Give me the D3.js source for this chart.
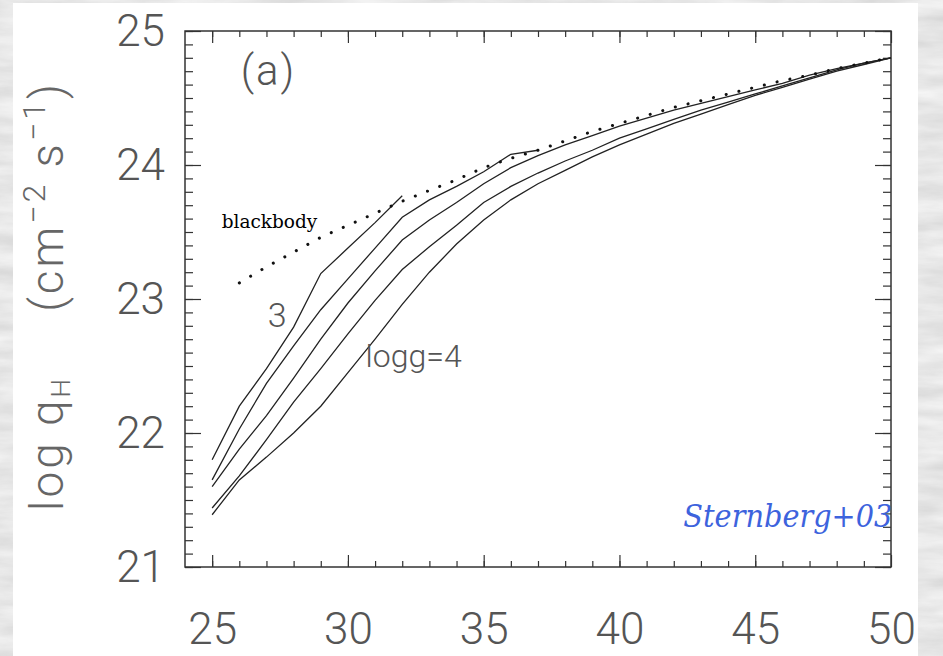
<!DOCTYPE html>
<html>
<head>
<meta charset="utf-8">
<script src="https://cdn.jsdelivr.net/npm/d3@7"></script>
<style>
  html, body { margin: 0; padding: 0; background: #ddd; }
  svg { display: block; }
</style>
</head>
<body>
<div id="chart"></div>
<script>
// effective temperature grid (kK)
var teffGrid = d3.range(25, 51, 1);

// log q_H for each log g track, starting at 25 kK
var qLogg30  = [21.80, 22.20, 22.48, 22.79, 23.19, 23.38, 23.57, 23.77];
var qLogg325 = [21.65, 22.03, 22.37, 22.65, 22.92, 23.15, 23.38, 23.61, 23.74, 23.84, 23.95, 24.08, 24.11];
var qLogg35  = [21.60, 21.88, 22.13, 22.41, 22.70, 22.97, 23.21, 23.44, 23.59, 23.72, 23.86, 23.98, 24.07,
                24.15, 24.22, 24.29, 24.35, 24.41, 24.46, 24.51, 24.56, 24.61, 24.67, 24.72, 24.76, 24.80];
var qLogg375 = [21.44, 21.68, 21.95, 22.23, 22.48, 22.74, 22.99, 23.22, 23.39, 23.55, 23.72, 23.84, 23.94,
                24.03, 24.11, 24.20, 24.27, 24.34, 24.41, 24.47, 24.53, 24.59, 24.65, 24.71, 24.76, 24.80];
var qLogg40  = [21.39, 21.65, 21.82, 22.00, 22.20, 22.45, 22.70, 22.96, 23.20, 23.41, 23.59, 23.74, 23.86,
                23.96, 24.06, 24.15, 24.23, 24.31, 24.38, 24.45, 24.52, 24.58, 24.64, 24.70, 24.75, 24.80];

// blackbody curve, starting at 26 kK
var bbStart = 26;
var qBlackbody = [23.12, 23.24, 23.35, 23.46, 23.55, 23.64, 23.73, 23.81, 23.89, 23.98, 24.05, 24.11, 24.18,
                  24.25, 24.31, 24.37, 24.43, 24.48, 24.53, 24.58, 24.63, 24.67, 24.72, 24.76, 24.80];

var xTicksMajor = [25, 30, 35, 40, 45, 50];
var yTicksMajor = [21, 22, 23, 24, 25];

var width = 943, height = 656;

var svg = d3.select("#chart").append("svg")
    .attr("width", width)
    .attr("height", height);

// stone-like frame texture
var defs = svg.append("defs");
var f = defs.append("filter").attr("id", "stone")
    .attr("x", 0).attr("y", 0).attr("width", 1).attr("height", 1);
f.append("feTurbulence")
    .attr("type", "fractalNoise")
    .attr("baseFrequency", "0.012 0.06")
    .attr("numOctaves", 5)
    .attr("seed", 3);
f.append("feColorMatrix")
    .attr("type", "matrix")
    .attr("values", "0.34 0 0 0 0.63  0.34 0 0 0 0.63  0.34 0 0 0 0.63  0 0 0 0 1");

svg.append("rect")
    .attr("width", width).attr("height", height)
    .attr("fill", "#ddd")
    .attr("filter", "url(#stone)");

svg.append("rect")
    .attr("x", 13).attr("y", 3)
    .attr("width", 905).attr("height", height)
    .attr("fill", "#fff");

var x = d3.scaleLinear().domain([24, 50]).range([185, 891]);
var y = d3.scaleLinear().domain([21, 25]).range([567, 31]);

var labelFont = "Roboto, 'Open Sans', Lato, 'DejaVu Sans', sans-serif";

function styleAxis(g) {
  g.select(".domain").remove();
  g.selectAll(".tick line").attr("stroke", "#333").attr("stroke-width", 1.2);
  g.selectAll(".tick text")
    .attr("fill", "#555")
    .style("font-family", labelFont)
    .style("font-weight", 300)
    .style("font-size", "44px");
}

var xMinor = d3.range(25, 50, 1);
var yMinor = d3.range(21, 25.001, 0.1);

// bottom
svg.append("g").attr("transform", "translate(0,567)")
    .call(d3.axisBottom(x).tickValues(xMinor).tickSize(-6).tickFormat("")).call(styleAxis);
svg.append("g").attr("transform", "translate(0,567)")
    .call(d3.axisBottom(x).tickValues(xTicksMajor).tickSize(-12).tickPadding(46).tickFormat(d3.format("d")))
    .call(styleAxis);
// top
svg.append("g").attr("transform", "translate(0,31)")
    .call(d3.axisTop(x).tickValues(xMinor).tickSize(-6).tickFormat("")).call(styleAxis);
svg.append("g").attr("transform", "translate(0,31)")
    .call(d3.axisTop(x).tickValues(xTicksMajor).tickSize(-12).tickFormat("")).call(styleAxis);
// left
svg.append("g").attr("transform", "translate(185,0)")
    .call(d3.axisLeft(y).tickValues(yMinor).tickSize(-8).tickFormat("")).call(styleAxis);
svg.append("g").attr("transform", "translate(185,0)")
    .call(d3.axisLeft(y).tickValues(yTicksMajor).tickSize(-16).tickPadding(20).tickFormat(d3.format("d")))
    .call(styleAxis);
// right
svg.append("g").attr("transform", "translate(891,0)")
    .call(d3.axisRight(y).tickValues(yMinor).tickSize(-8).tickFormat("")).call(styleAxis);
svg.append("g").attr("transform", "translate(891,0)")
    .call(d3.axisRight(y).tickValues(yTicksMajor).tickSize(-16).tickFormat("")).call(styleAxis);

// frame
svg.append("rect")
    .attr("x", x(24)).attr("y", y(25))
    .attr("width", x(50) - x(24)).attr("height", y(21) - y(25))
    .attr("fill", "none").attr("stroke", "#333").attr("stroke-width", 1.5);

var line = d3.line()
    .x(function(d) { return x(d[0]); })
    .y(function(d) { return y(d[1]); });

var tracks = [qLogg30, qLogg325, qLogg35, qLogg375, qLogg40];
tracks.forEach(function(q) {
  var pts = q.map(function(v, i) { return [teffGrid[i], v]; });
  svg.append("path")
      .datum(pts)
      .attr("d", line)
      .attr("fill", "none")
      .attr("stroke", "#222")
      .attr("stroke-width", 1.3);
});

var bbPts = qBlackbody.map(function(v, i) { return [bbStart + i, v]; });
svg.append("path")
    .datum(bbPts)
    .attr("d", line)
    .attr("fill", "none")
    .attr("stroke", "#111")
    .attr("stroke-width", 3)
    .attr("stroke-linecap", "round")
    .attr("stroke-dasharray", "0.1 13");

// annotations
function note(tx, ty, txt, opts) {
  var t = svg.append("text")
      .attr("x", x(tx)).attr("y", y(ty))
      .attr("fill", opts.fill || "#555")
      .style("font-family", opts.family || labelFont)
      .style("font-weight", opts.weight || 300)
      .style("font-size", opts.size + "px")
      .attr("text-anchor", opts.anchor || "start")
      .text(txt);
  if (opts.italic) t.style("font-style", "italic");
  if (opts.spacing) t.style("letter-spacing", opts.spacing + "px");
  return t;
}
note(26.05, 24.60, "(a)", {size: 42, spacing: 2});
note(27.05, 22.79, "3", {size: 34});
note(30.65, 22.49, "logg=4", {size: 32});
note(25.35, 23.53, "blackbody", {size: 18.5, fill: "#000", family: "'DejaVu Serif', serif", weight: 400});
note(50.05, 21.3, "Sternberg+03", {size: 32, fill: "#3d63dd",
     family: "'DejaVu Serif', serif", weight: 400, italic: true, anchor: "end"})
  .style("font-stretch", "condensed");

// y axis title
var yt = svg.append("text")
    .attr("transform", "translate(63,296) rotate(-90)")
    .attr("text-anchor", "middle")
    .attr("fill", "#666")
    .style("font-family", labelFont)
    .style("font-weight", 300)
    .style("font-size", "46px")
    .style("letter-spacing", "3px");
yt.append("tspan").text("log q");
yt.append("tspan").attr("baseline-shift", "-25%").style("font-size", "26px").text("H");
yt.append("tspan").text("\u2003 (cm");
yt.append("tspan").attr("baseline-shift", "55%").style("font-size", "32px").text("\u22122");
yt.append("tspan").text("  s");
yt.append("tspan").attr("baseline-shift", "55%").style("font-size", "32px").text("\u22121");
yt.append("tspan").text(")");
</script>
</body>
</html>
